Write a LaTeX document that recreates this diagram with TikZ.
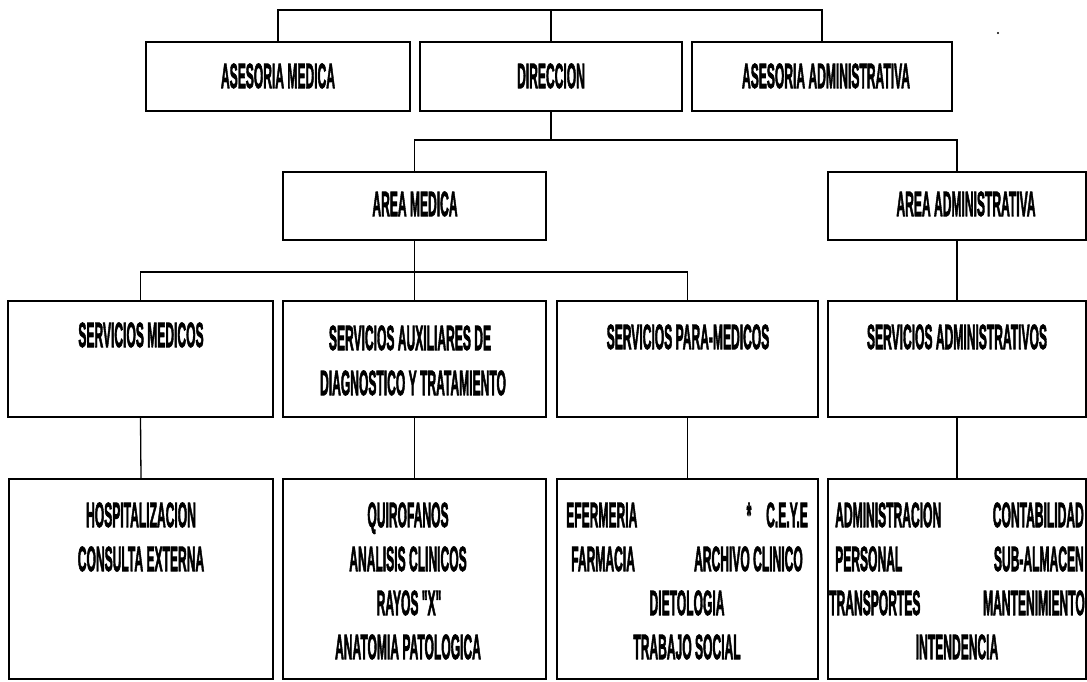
\documentclass[tikz,border=0pt]{standalone}
\usepackage{graphicx}
\usepackage{fontspec}
\newfontfamily\cond[FakeBold=3]{Liberation Sans}
\newcommand\ct[1]{\scalebox{0.345}[1]{#1}}
\begin{document}
\begin{tikzpicture}[x=1pt,y=-1pt,
  box/.style={draw, line width=1.4pt, inner sep=0pt},
  conn/.style={line width=1.3pt},
  txt/.style={font={\cond\bfseries\fontsize{35}{42}\selectfont}, inner sep=0pt, text height=24pt, text depth=0pt}]
\useasboundingbox (0,0) rectangle (1087,681);
% row 1
\node[box, minimum width=264pt, minimum height=69pt] (am)  at (278,76.5) {};
\node[box, minimum width=262pt, minimum height=69pt] (dir) at (551,76.5) {};
\node[box, minimum width=260pt, minimum height=69pt] (aa)  at (822,76.5) {};
% row 2
\node[box, minimum width=263pt, minimum height=68pt] (amed) at (414.5,206) {};
\node[box, minimum width=258pt, minimum height=68pt] (aadm) at (957,206) {};
% row 3
\node[box, minimum width=265pt, minimum height=116pt] (sm)    at (140.5,359) {};
\node[box, minimum width=263pt, minimum height=116pt] (saux)  at (414.5,359) {};
\node[box, minimum width=261pt, minimum height=116pt] (spara) at (687.5,359) {};
\node[box, minimum width=258pt, minimum height=116pt] (sadm)  at (957,359) {};
% row 4
\node[box, minimum width=264pt, minimum height=200pt] (h) at (141,579) {};
\node[box, minimum width=263pt, minimum height=200pt] (q) at (414.5,579) {};
\node[box, minimum width=261pt, minimum height=200pt] (e) at (687.5,579) {};
\node[box, minimum width=258pt, minimum height=200pt] (a) at (957,579) {};
% connectors
\coordinate (t0) at (0,10);
\coordinate (t1) at (0,140);
\coordinate (t2) at (0,272);
\draw[conn] (am.north) -- (am.north |- t0) -- (aa.north |- t0) -- (aa.north);
\draw[conn] (dir.north) -- (dir.north |- t0);
\draw[conn] (dir.south) -- (dir.south |- t1);
\draw[conn] (amed.north) -- (amed.north |- t1) -- (aadm.north |- t1) -- (aadm.north);
\draw[conn] (amed.south) -- (amed.south |- t2);
\draw[conn] (sm.north) -- (sm.north |- t2) -- (spara.north |- t2) -- (spara.north);
\draw[conn] (saux.north) -- (saux.north |- t2);
\draw[conn] (aadm.south) -- (sadm.north);
\draw[conn] (sm.south) -- (h.north);
\draw[conn] (saux.south) -- (q.north);
\draw[conn] (spara.south) -- (e.north);
\draw[conn] (sadm.south) -- (a.north);
\fill (998,33) circle (1.2pt);
% texts row 1
\node[txt] (tam)  at (278,76) {\ct{ASESORIA MEDICA}};
\node[txt] (tdir) at (551,76) {\ct{DIRECCION}};
\node[txt] (taa)  at (826,76) {\ct{ASESORIA ADMINISTRATIVA}};
% row 2
\node[txt] (tamed) at (415,204) {\ct{AREA MEDICA}};
\node[txt] (taadm) at (966,204) {\ct{AREA ADMINISTRATIVA}};
% row 3
\node[txt] (tsm)    at (141,335) {\ct{SERVICIOS MEDICOS}};
\node[txt] (tsaux1) at (410,338) {\ct{SERVICIOS AUXILIARES DE}};
\node[txt] (tsaux2) at (413,383) {\ct{DIAGNOSTICO Y TRATAMIENTO}};
\node[txt] (tspara) at (688,337) {\ct{SERVICIOS PARA-MEDICOS}};
\node[txt] (tsadm)  at (957,337) {\ct{SERVICIOS ADMINISTRATIVOS}};
% row 4
\node[txt] (h1) at (141,515) {\ct{HOSPITALIZACION}};
\node[txt] (h2) at (141,559) {\ct{CONSULTA EXTERNA}};
\node[txt] (q1) at (408,515) {\ct{QUIROFANOS}};
\node[txt] (q2) at (408,559) {\ct{ANALISIS CLINICOS}};
\node[txt] (q3) at (409,603) {\ct{RAYOS "X"}};
\node[txt] (q4) at (408,647) {\ct{ANATOMIA PATOLOGICA}};
\node[txt, anchor=west] (e1) at (566,515) {\ct{EFERMERIA}};
\node[txt] (e2) at (749,515) {\ct{*}};
\node[txt, anchor=east] (e3) at (808,515) {\ct{C.E.Y.E}};
\node[txt, anchor=west] (e4) at (571,559) {\ct{FARMACIA}};
\node[txt, anchor=east] (e5) at (803,559) {\ct{ARCHIVO CLINICO}};
\node[txt] (e6) at (687,603) {\ct{DIETOLOGIA}};
\node[txt] (e7) at (687,647) {\ct{TRABAJO SOCIAL}};
\node[txt, anchor=west] (a1) at (835,515) {\ct{ADMINISTRACION}};
\node[txt, anchor=east] (a2) at (1084,515) {\ct{CONTABILIDAD}};
\node[txt, anchor=west] (a3) at (835,559) {\ct{PERSONAL}};
\node[txt, anchor=east] (a4) at (1084,559) {\ct{SUB-ALMACEN}};
\node[txt, anchor=west] (a5) at (829,603) {\ct{TRANSPORTES}};
\node[txt, anchor=east] (a6) at (1085,603) {\ct{MANTENIMIENTO}};
\node[txt] (a7) at (957,647) {\ct{INTENDENCIA}};
\end{tikzpicture}
\end{document}
